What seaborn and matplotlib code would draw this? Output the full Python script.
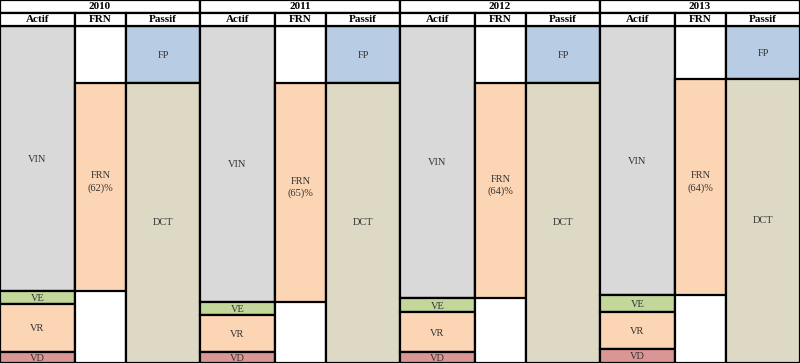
import matplotlib
matplotlib.use("Agg")
import matplotlib.pyplot as plt
import seaborn as sns

# Data (share of balance sheet total, %)
years = ["2010", "2011", "2012", "2013"]
vin = [78.6, 81.9, 80.7, 79.8]
ve = [3.9, 3.9, 4.2, 5.0]
vr = [14.2, 11.0, 11.9, 11.0]
vd = [3.3, 3.3, 3.3, 4.2]
fp = [16.9, 16.9, 16.9, 15.7]
dct = [83.1, 83.1, 83.1, 84.3]
frn = [61.7, 65.0, 63.8, 64.1]
frn_labels = ["(62)%", "(65)%", "(64)%", "(64)%"]
sub_headers = ["Actif", "FRN", "Passif"]

colors = {
    "VIN": "#D9D9D9", "VE": "#C4D79B", "VR": "#FCD5B4", "VD": "#DA9694",
    "FP": "#B8CCE4", "DCT": "#DDD9C4", "FRN": "#FCD5B4",
}

sns.set_theme(style="white")
plt.rcParams['font.family'] = ['Liberation Serif', 'DejaVu Serif']

fig = plt.figure(figsize=(8, 3.63), dpi=100)
ax = fig.add_axes([0, 0, 1, 1])

# column layout inside one year block
col_left = [0.0, 0.375, 0.63]
col_w = [0.375, 0.255, 0.37]
lw = 1.6
txt_kw = dict(ha="center", va="center", fontsize=7.5, color="#333333")

for i, yr in enumerate(years):
    # Actif
    x = i + col_left[0]
    start = 0
    for name, vals in [("VIN", vin), ("VE", ve), ("VR", vr), ("VD", vd)]:
        h = vals[i]
        ax.bar(x, h, width=col_w[0], bottom=start, align="edge",
               color=colors[name], edgecolor="black", linewidth=lw)
        ax.text(x + col_w[0] / 2, start + h / 2 + 0.3, name, **txt_kw)
        start += h

    # FRN
    x = i + col_left[1]
    ax.bar(x, 100, width=col_w[1], bottom=0, align="edge",
           color="white", edgecolor="black", linewidth=lw)
    ax.bar(x, frn[i], width=col_w[1], bottom=fp[i], align="edge",
           color=colors["FRN"], edgecolor="black", linewidth=lw)
    ax.text(x + col_w[1] / 2, fp[i] + frn[i] / 2 - 1.5,
            "FRN\n" + frn_labels[i], linespacing=1.4, **txt_kw)

    # Passif
    x = i + col_left[2]
    ax.bar(x, fp[i], width=col_w[2], bottom=0, align="edge",
           color=colors["FP"], edgecolor="black", linewidth=lw)
    ax.text(x + col_w[2] / 2, fp[i] / 2 + 0.3, "FP", **txt_kw)
    ax.bar(x, dct[i], width=col_w[2], bottom=fp[i], align="edge",
           color=colors["DCT"], edgecolor="black", linewidth=lw)
    ax.text(x + col_w[2] / 2, fp[i] + dct[i] / 2, "DCT", **txt_kw)

    # header rows
    ax.bar(i, 3.85, width=1, bottom=-7.7, align="edge",
           color="white", edgecolor="black", linewidth=lw)
    ax.text(i + 0.5, -5.7, yr, ha="center", va="center",
            fontsize=8, fontweight="bold", color="black")
    for j, sh in enumerate(sub_headers):
        ax.bar(i + col_left[j], 3.85, width=col_w[j], bottom=-3.85, align="edge",
               color="white", edgecolor="black", linewidth=lw)
        ax.text(i + col_left[j] + col_w[j] / 2, -1.9, sh, ha="center", va="center",
                fontsize=8, fontweight="bold", color="black")

ax.set_xlim(0, 4)
ax.set_ylim(100, -7.7)
ax.axis("off")

fig.savefig("out.png", dpi=100)
